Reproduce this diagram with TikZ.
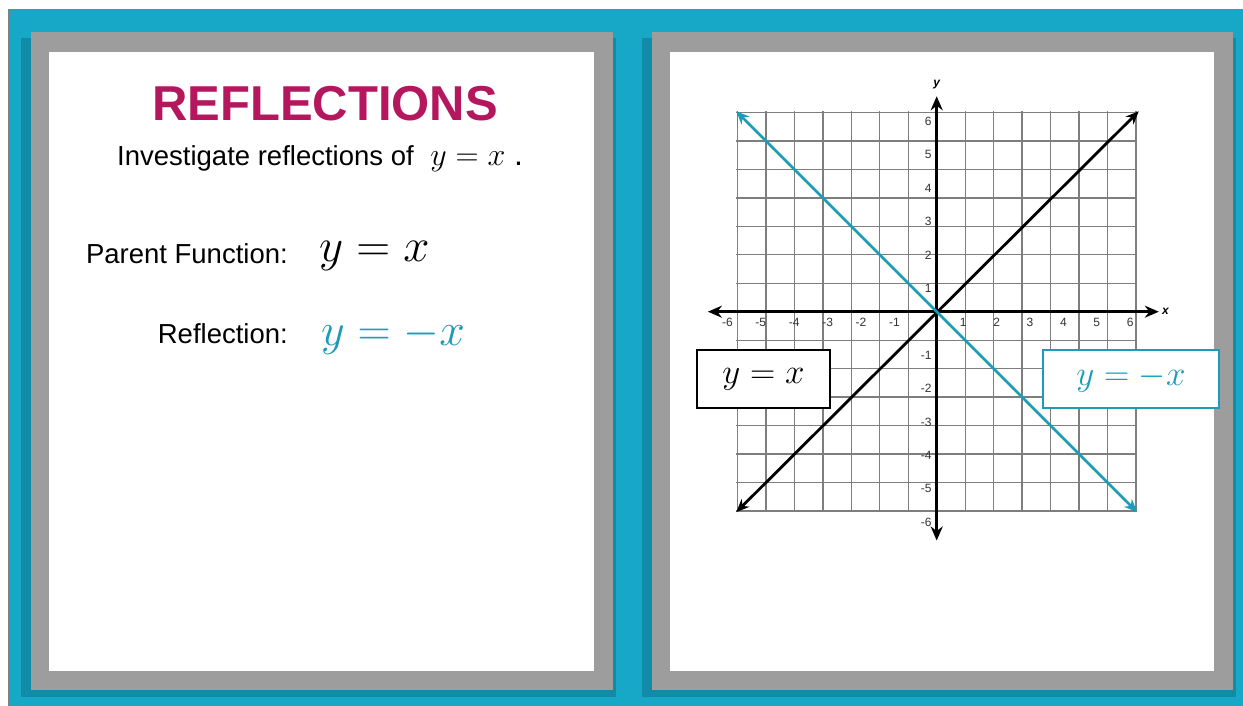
\RequirePackage{fix-cm}
\documentclass[tikz,border=0pt]{standalone}
\usepackage{fontspec}
\setmainfont{Liberation Sans}
\usetikzlibrary{arrows.meta}
\definecolor{bgteal}{HTML}{17A7C7}
\definecolor{shadowteal}{HTML}{0C7088}
\definecolor{framegray}{HTML}{9D9D9D}
\definecolor{magentatitle}{HTML}{B5175E}
\definecolor{lineteal}{HTML}{1B9CB8}
\definecolor{gridgray}{HTML}{7E7E7E}
\definecolor{ticktext}{HTML}{333333}
\tikzset{
  panelframe/.style={fill=framegray, draw=none},
  panelwhite/.style={fill=white, draw=none},
  panelshadow/.style={fill=shadowteal, opacity=0.5, draw=none},
  bodytext/.style={inner sep=0pt, font=\fontsize{27.5}{30}\selectfont, text=black},
  tick/.style={inner sep=0pt, font=\fontsize{12}{12}\selectfont, text=ticktext},
  axisline/.style={line width=3pt, black, {Stealth[length=14pt,width=12pt]}-{Stealth[length=14pt,width=12pt]}},
  diagline/.style={line width=2.8pt, {Stealth[length=13pt,width=11pt]}-{Stealth[length=13pt,width=11pt]}},
  eqbox/.style={line width=2pt, fill=white, minimum height=58pt, inner sep=0pt, font=\fontsize{35}{40}\selectfont}
}
\begin{document}
\begin{tikzpicture}[x=1pt,y=-1pt]
\useasboundingbox (0,0) rectangle (1243,706);
\fill[white] (0,0) rectangle (1243,706);
% background
\fill[bgteal] (8,10) rectangle (1243,706);
\draw[gray, line width=1pt] (8,706) -- (8,10) -- (1243,10);
% shadows
\fill[panelshadow] (21,38) rectangle (616,697);
\fill[panelshadow] (642,38) rectangle (1236,697);
% left panel
\fill[panelframe] (31,32) rectangle (613,690);
\fill[panelwhite] (49,52) rectangle (594,671);
% right panel
\fill[panelframe] (652,32) rectangle (1233,690);
\fill[panelwhite] (670,52) rectangle (1214,671);

% left panel text
\node[inner sep=0pt, font=\fontsize{49}{52}\selectfont\bfseries, text=magentatitle] (title) at (325,104) {REFLECTIONS};
\node[bodytext, anchor=west] (invest) at (117,159) {Investigate reflections of \fontsize{32}{34}\selectfont$\;y = x\;$.};
\node[bodytext, anchor=east] (parent) at (288,254) {Parent Function:};
\node[inner sep=0pt, anchor=west, font=\fontsize{47}{50}\selectfont] (parenteq) at (319,256) {$y = x$};
\node[bodytext, anchor=east] (refl) at (288,334) {Reflection:};
\node[inner sep=0pt, anchor=west, font=\fontsize{46}{50}\selectfont, text=lineteal] (refleq) at (321,337) {$y = -x$};

% graph
\begin{scope}[shift={(936.7,311.7)}, x=33.4pt, y=33.4pt]
  \draw[gridgray, line width=1.3pt] (-6,-6) grid (6,6);
  \coordinate (xl) at (-6.85,0);
  \coordinate (xr) at (6.65,0);
  \coordinate (yb) at (0,-6.85);
  \coordinate (yt) at (0,6.45);
  \draw[axisline] (xl) -- (xr);
  \draw[axisline] (yb) -- (yt);
  \node[inner sep=0pt, font=\fontsize{12}{12}\selectfont\bfseries\itshape] (xlab) at (6.85,0) {x};
  \node[inner sep=0pt, font=\fontsize{12}{12}\selectfont\bfseries\itshape] (ylab) at (0,6.8) {y};
  \foreach \i in {-6,-5,-4,-3,-2,-1,1,2,3,4,5,6} {
    \node[tick, anchor=east] (xt\i) at (\i-0.1,-0.33) {\i};
    \node[tick, anchor=east] (yt\i) at (-0.15,\i-0.3) {\i};
  }
  \coordinate (bl) at (-6,-6);
  \coordinate (tr) at (6.05,6);
  \coordinate (tl) at (-6,6);
  \coordinate (br) at (6,-6);
  \draw[diagline, black] (bl) -- (tr);
  \draw[diagline, lineteal] (tl) -- (br);
\end{scope}

% equation boxes
\node[eqbox, draw=black, minimum width=133pt] (boxa) at (763.5,379) {$y = x$};
\node[eqbox, draw=lineteal, minimum width=176pt, text=lineteal] (boxb) at (1131,379) {$y = -x$};
\end{tikzpicture}
\end{document}
